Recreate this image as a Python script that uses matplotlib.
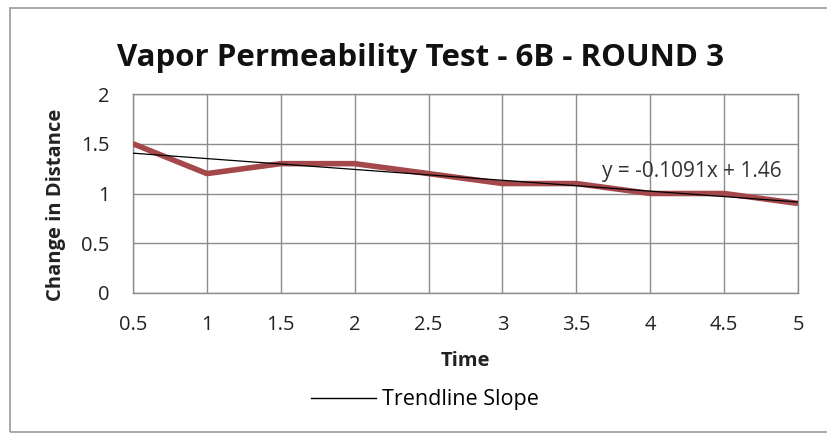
import numpy as np
import matplotlib
matplotlib.use("Agg")
import matplotlib.pyplot as plt
from matplotlib.lines import Line2D
from matplotlib.patches import Rectangle

FONT = 'Open Sans'

time_labels = ['0.5', '1', '1.5', '2', '2.5', '3', '3.5', '4', '4.5', '5']
time = [0.5, 1, 1.5, 2, 2.5, 3, 3.5, 4, 4.5, 5]
distance = [1.5, 1.2, 1.3, 1.3, 1.2, 1.1, 1.1, 1.0, 1.0, 0.9]
y_ticks = [0, 0.5, 1, 1.5, 2]
y_tick_labels = ['0', '0.5', '1', '1.5', '2']

W, H = 827, 438
fig = plt.figure(figsize=(W / 100, H / 100), dpi=100)
fig.patch.set_facecolor('white')

# outer chart frame
fig.patches.append(Rectangle((10 / W, 1 - 432 / H), 830 / W, 424 / H,
                             transform=fig.transFigure, fill=False,
                             edgecolor='#9a9a9a', linewidth=1.2))

ax = fig.add_axes([133 / W, 1 - 293 / H, (798 - 133) / W, (293 - 94) / H])
x = np.array(time)
y = np.array(distance)
ax.plot(x, y, color='#a5484b', linewidth=4.0, solid_capstyle='butt', zorder=3)
m, b = np.polyfit(x, y, 1)
ax.plot(x, m * x + b, color='black', linewidth=0.9, zorder=4)

ax.set_xlim(0.5, 5)
ax.set_ylim(0, 2)
ax.set_xticks(time)
ax.set_xticklabels(time_labels)
ax.set_yticks(y_ticks)
ax.set_yticklabels(y_tick_labels)
ax.grid(True, color='#8c8c8c', linewidth=1.0)
ax.set_axisbelow(True)
for s in ax.spines.values():
    s.set_color('#8c8c8c')
    s.set_linewidth(1.0)
ax.tick_params(length=0, labelsize=14.5, colors='#222222')
ax.tick_params(axis='x', pad=16)
ax.tick_params(axis='y', pad=17)
for lab in ax.get_xticklabels() + ax.get_yticklabels():
    lab.set_family(FONT)

fig.text(421 / W, 1 - 58 / H, 'Vapor Permeability Test - 6B - ROUND 3',
         ha='center', va='center', fontsize=22.5, fontweight='bold',
         family=FONT, color='#111111')
fig.text(56 / W, 1 - 205 / H, 'Change in Distance', rotation=90,
         ha='center', va='center', fontsize=14.5, fontweight='bold',
         family=FONT, color='#222222')
fig.text(465 / W, 1 - 361 / H, 'Time', ha='center', va='center',
         fontsize=14.5, fontweight='bold', family=FONT, color='#222222')
ax.text(4.89, 1.22, f'y = {m:.4f}x + {b:.2f}', ha='right', va='center',
        fontsize=15, family=FONT, color='#333333', zorder=5)

handle = Line2D([0], [0], color='black', linewidth=1.0)
fig.legend([handle], ['Trendline Slope'], loc='center',
           bbox_to_anchor=(425 / W, 1 - 400 / H), frameon=False,
           handlelength=3.0, handletextpad=0.3,
           prop={'family': FONT, 'size': 15.5})

fig.savefig('out.png', dpi=100, facecolor='white')
